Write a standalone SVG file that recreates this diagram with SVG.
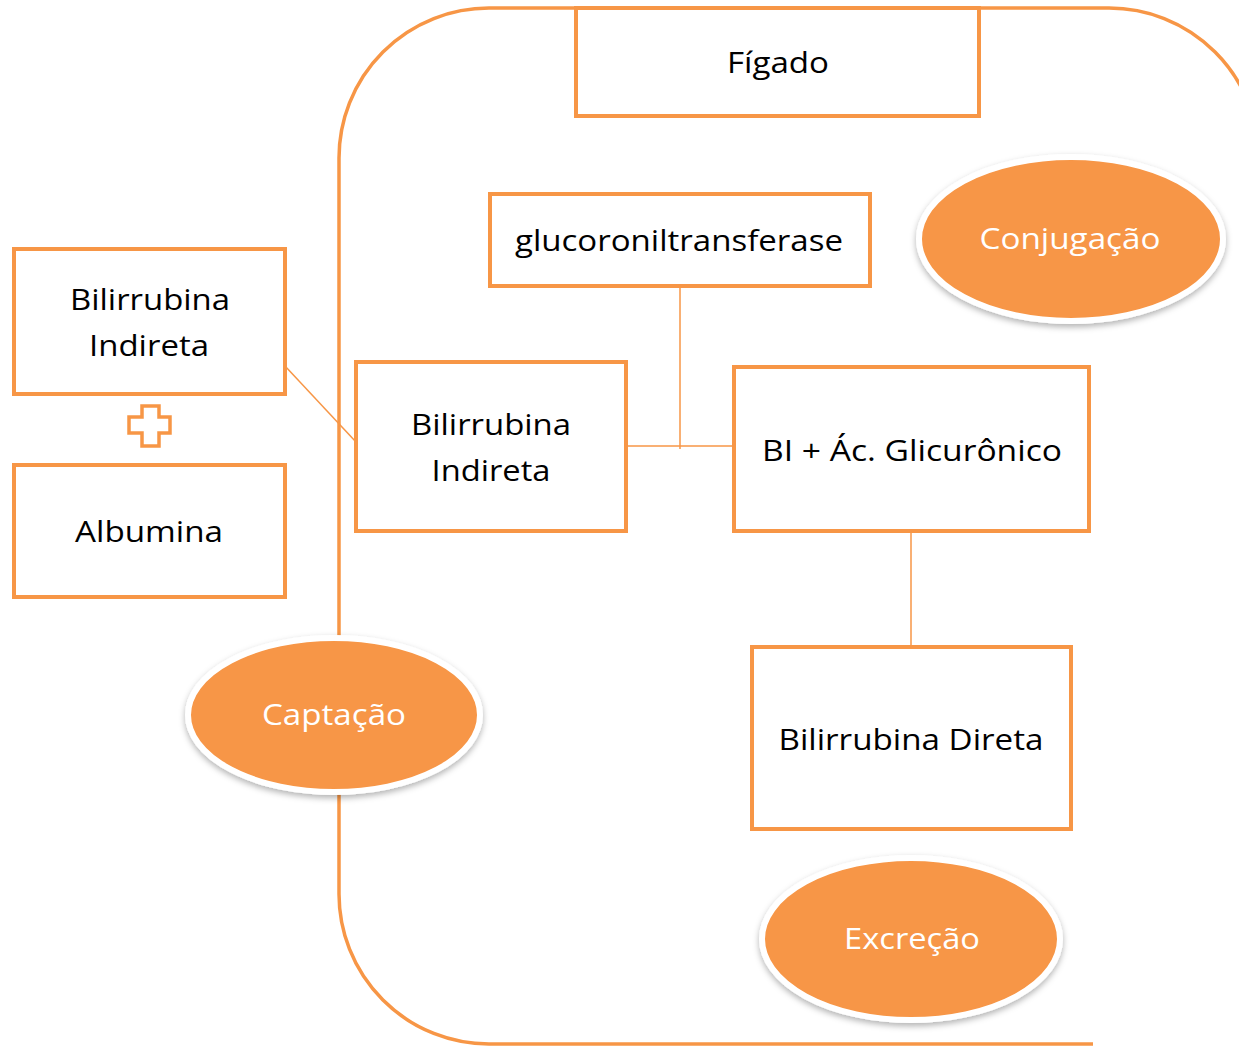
<svg xmlns="http://www.w3.org/2000/svg" width="1239" height="1046" viewBox="0 0 1239 1046">
<style>
.box{fill:#fff;stroke:#F79646;stroke-width:4}
.t{font-family:"Open Sans","Liberation Sans",sans-serif;font-size:30px;fill:#000;text-anchor:middle;dominant-baseline:central}
.w{font-family:"Open Sans","Liberation Sans",sans-serif;font-size:30px;fill:#fff;text-anchor:middle;dominant-baseline:central}
.ell{fill:#F79646;stroke:#fff;stroke-width:6;filter:url(#sh)}
.conn{stroke:#F79646;stroke-width:1.5;fill:none}
</style>
<defs>
<filter id="sh" x="-20%" y="-20%" width="140%" height="150%">
<feDropShadow dx="0" dy="3" stdDeviation="3" flood-color="#000" flood-opacity="0.3"/>
</filter>
</defs>
<rect width="1239" height="1046" fill="#fff"/>
<g id="liver-outline">
<path d="M1093,1044 L489,1044 A150,150 0 0 1 339,894 L339,158 A150,150 0 0 1 489,8 L1109,8 A150,150 0 0 1 1259,158" fill="none" stroke="#F79646" stroke-width="3.5"/>
</g>
<g id="connectors">
<line class="conn" x1="285" y1="366" x2="356" y2="442"/>
<line class="conn" x1="626" y1="446" x2="734" y2="446"/>
<line class="conn" x1="680" y1="286" x2="680" y2="449"/>
<line class="conn" x1="911" y1="531" x2="911" y2="647"/>
</g>
<g id="figado">
<rect class="box" x="576" y="8" width="403" height="108"/>
<text class="t" x="778" y="61" textLength="102" lengthAdjust="spacingAndGlyphs">Fígado</text>
</g>
<g id="glucoroniltransferase">
<rect class="box" x="490" y="194" width="380" height="92"/>
<text class="t" x="679" y="239" textLength="328" lengthAdjust="spacingAndGlyphs">glucoroniltransferase</text>
</g>
<g id="conjugacao">
<ellipse class="ell" cx="1071" cy="239" rx="152" ry="82"/>
<text class="w" x="1070" y="237" textLength="181" lengthAdjust="spacingAndGlyphs">Conjugação</text>
</g>
<g id="bilirrubina-indireta-left">
<rect class="box" x="14" y="249" width="271" height="145"/>
<text class="t" x="150" y="298" textLength="160" lengthAdjust="spacingAndGlyphs">Bilirrubina</text>
<text class="t" x="149" y="344" textLength="120" lengthAdjust="spacingAndGlyphs">Indireta</text>
</g>
<g id="plus">
<path d="M142,406 H159 V417 H170 V433 H159 V446 H142 V433 H129 V417 H142 Z" fill="#fff" stroke="#F79646" stroke-width="3.5"/>
</g>
<g id="albumina">
<rect class="box" x="14" y="465" width="271" height="132"/>
<text class="t" x="149" y="530" textLength="148" lengthAdjust="spacingAndGlyphs">Albumina</text>
</g>
<g id="bilirrubina-indireta-mid">
<rect class="box" x="356" y="362" width="270" height="169"/>
<text class="t" x="491" y="423" textLength="160" lengthAdjust="spacingAndGlyphs">Bilirrubina</text>
<text class="t" x="491" y="469" textLength="119" lengthAdjust="spacingAndGlyphs">Indireta</text>
</g>
<g id="bi-ac-glicuronico">
<rect class="box" x="734" y="367" width="355" height="164"/>
<text class="t" x="912" y="449" textLength="300" lengthAdjust="spacingAndGlyphs">BI + Ác. Glicurônico</text>
</g>
<g id="bilirrubina-direta">
<rect class="box" x="752" y="647" width="319" height="182"/>
<text class="t" x="911" y="738" textLength="265" lengthAdjust="spacingAndGlyphs">Bilirrubina Direta</text>
</g>
<g id="captacao">
<ellipse class="ell" cx="334" cy="715" rx="146" ry="77"/>
<text class="w" x="334" y="713" textLength="144" lengthAdjust="spacingAndGlyphs">Captação</text>
</g>
<g id="excrecao">
<ellipse class="ell" cx="911" cy="939" rx="149" ry="81"/>
<text class="w" x="912" y="937" textLength="136" lengthAdjust="spacingAndGlyphs">Excreção</text>
</g>
</svg>
